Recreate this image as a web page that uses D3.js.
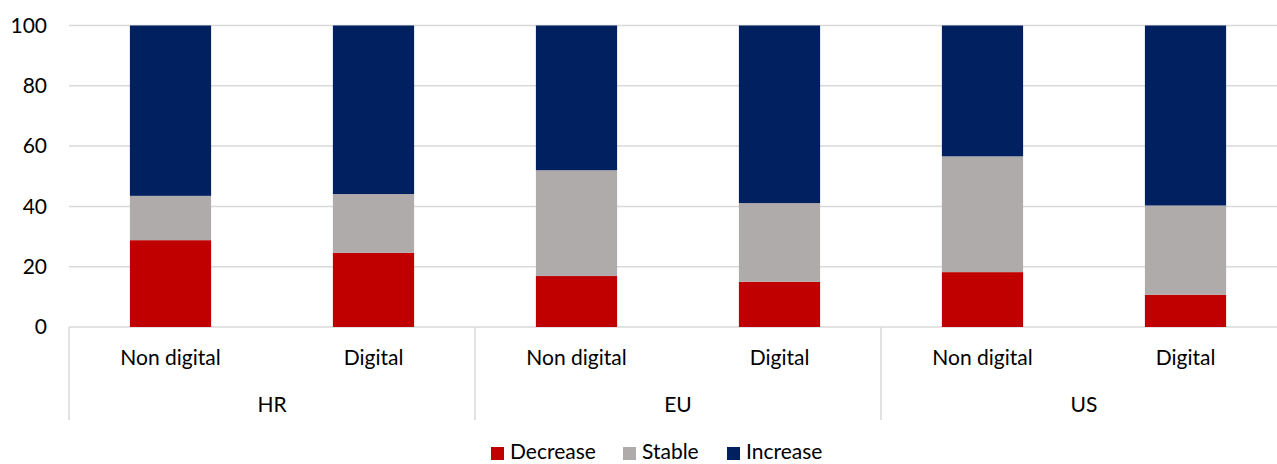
<!DOCTYPE html>
<html><head><meta charset="utf-8">
<script src="https://cdn.jsdelivr.net/npm/d3@7"></script>
<style>body{margin:0;background:#fff;} svg{display:block;} text{font-family:Lato, "Open Sans", sans-serif;fill:#000;}</style>
</head><body><svg id="c" width="1277" height="464"></svg>
<script>
const groups = ["HR", "EU", "US"];
const subcats = ["Non digital", "Digital"];
const seriesNames = ["Decrease", "Stable", "Increase"];
const seriesColors = ["#c00000", "#afabab", "#002060"];
const decrease = [28.8, 24.6, 16.9, 15.0, 18.2, 10.7];
const stable   = [14.7, 19.5, 35.1, 26.1, 38.4, 29.6];
const increase = [56.5, 55.9, 48.0, 58.9, 43.4, 59.7];
const yTicks = [0, 20, 40, 60, 80, 100];

const svg = d3.select("#c");
const L = 69, R = 1287, T = 25.5, B = 327;
const FS = 21;
const y = d3.scaleLinear().domain([0, 100]).range([B, T]);
const xg = d3.scaleBand().domain(groups).range([L, R]).padding(0);
const xs = d3.scaleBand().domain(subcats).range([0, xg.bandwidth()]).paddingInner(0.6).paddingOuter(0.3);

const rows = [];
groups.forEach((g, gi) => subcats.forEach((s, si) => {
  const i = gi * 2 + si;
  rows.push({g, s, Decrease: decrease[i], Stable: stable[i], Increase: increase[i]});
}));
const stacked = d3.stack().keys(seriesNames)(rows);

// gridlines
svg.append("g").selectAll("line").data(yTicks).join("line")
  .attr("x1", L).attr("x2", R).attr("y1", d => y(d)).attr("y2", d => y(d))
  .attr("stroke", "#d9d9d9").attr("stroke-width", 1.5);

// y labels
svg.append("g").selectAll("text").data(yTicks).join("text")
  .attr("x", 47).attr("y", d => y(d)).attr("dy", "0.35em").attr("text-anchor", "end")
  .attr("font-size", FS).text(d => d);

// bars
svg.append("g").selectAll("g").data(stacked).join("g")
  .attr("fill", (d, i) => seriesColors[i])
  .selectAll("rect").data(d => d).join("rect")
  .attr("x", d => xg(d.data.g) + xs(d.data.s))
  .attr("width", xs.bandwidth())
  .attr("y", d => y(d[1]))
  .attr("height", d => y(d[0]) - y(d[1]));

// category dividers
svg.append("g").selectAll("line").data(groups.map(g => xg(g)).concat([R])).join("line")
  .attr("x1", d => d).attr("x2", d => d).attr("y1", B).attr("y2", 420)
  .attr("stroke", "#d9d9d9").attr("stroke-width", 1.5);

// sub labels
svg.append("g").selectAll("text").data(rows).join("text")
  .attr("x", d => xg(d.g) + xs(d.s) + xs.bandwidth() / 2).attr("y", 358).attr("dy", "0.35em")
  .attr("text-anchor", "middle").attr("font-size", FS).text(d => d.s);

// group labels
svg.append("g").selectAll("text").data(groups).join("text")
  .attr("x", d => xg(d) + xg.bandwidth() / 2).attr("y", 405).attr("dy", "0.35em")
  .attr("text-anchor", "middle").attr("font-size", FS).text(d => d);

// legend
const legX = [491, 623, 727];
const leg = svg.append("g").selectAll("g").data(seriesNames).join("g")
  .attr("transform", (d, i) => `translate(${legX[i]},452)`);
leg.append("rect").attr("x", 0).attr("y", -5).attr("width", 13).attr("height", 13)
  .attr("fill", (d, i) => seriesColors[i]);
leg.append("text").attr("x", 19).attr("y", 0).attr("dy", "0.35em").attr("font-size", FS).text(d => d);
</script></body></html>
